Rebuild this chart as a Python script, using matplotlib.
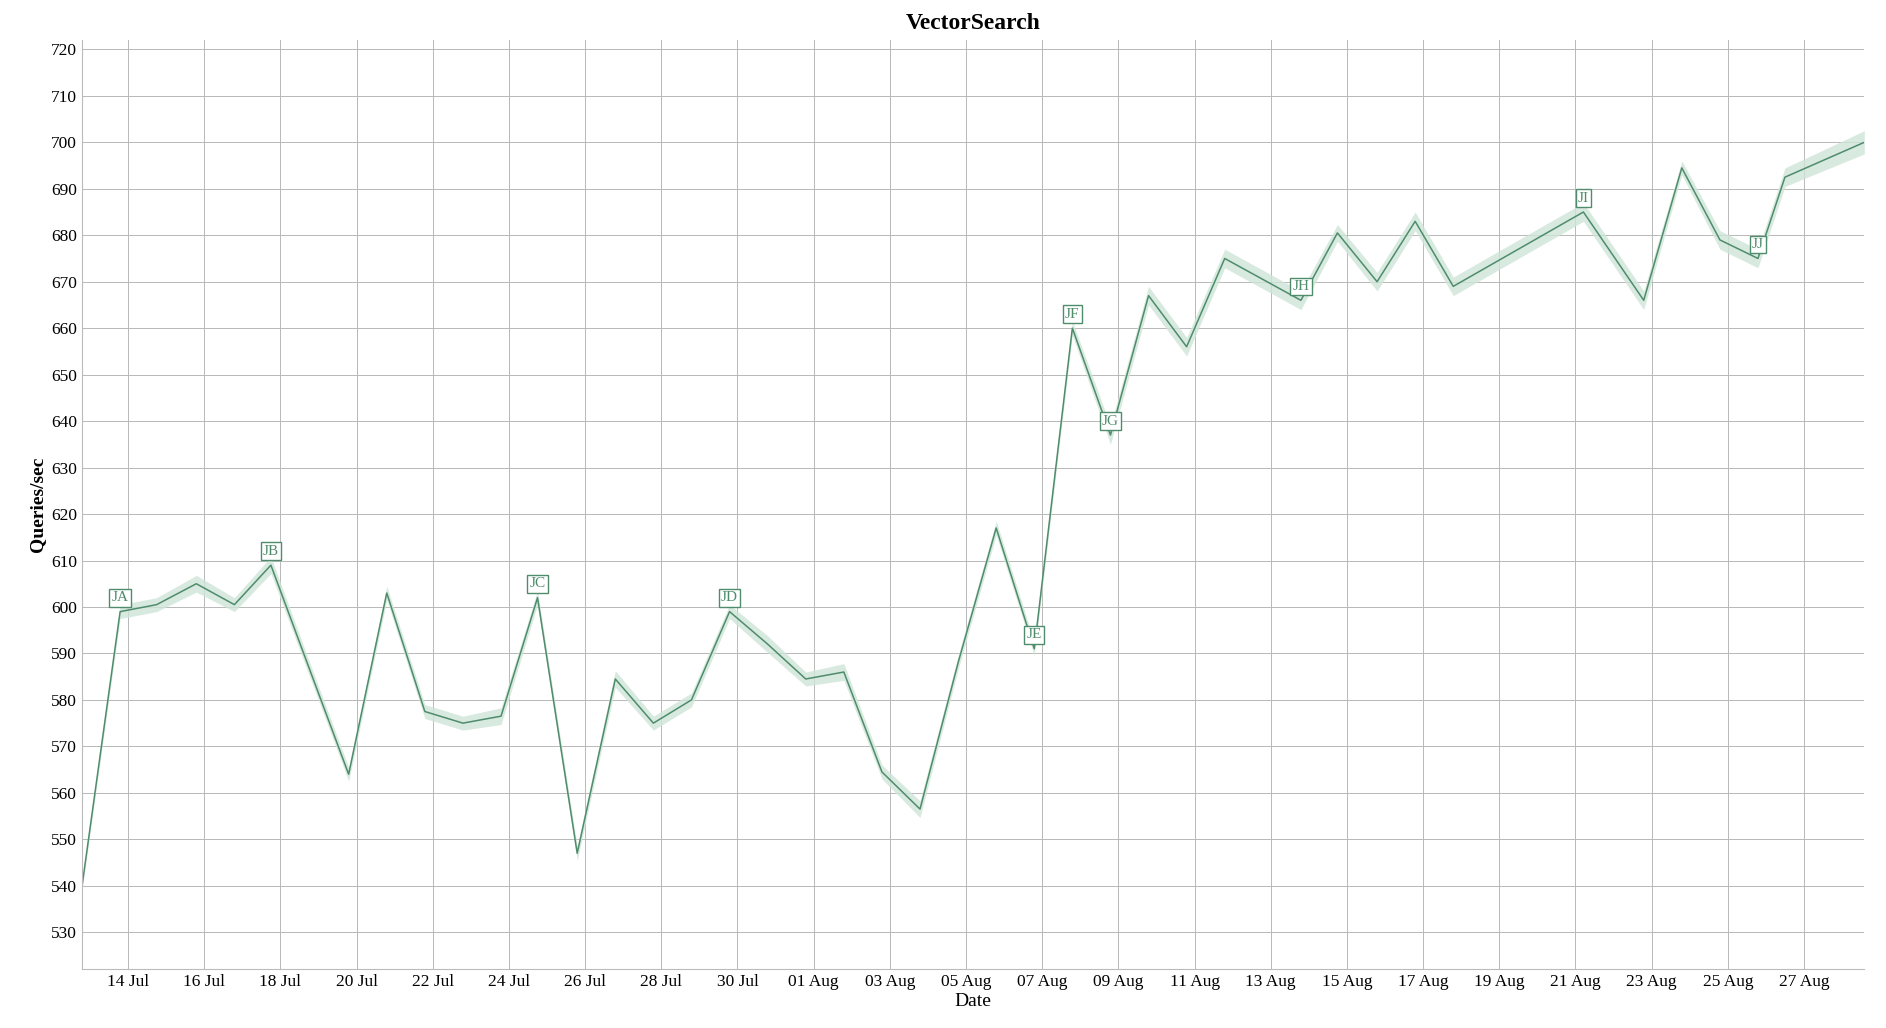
import matplotlib
matplotlib.use("Agg")
import matplotlib.pyplot as plt
import matplotlib.dates as mdates
import matplotlib.ticker as mticker
import numpy as np
import pandas as pd

dates = ["2023-07-12 19:00","2023-07-13 19:00","2023-07-14 18:00","2023-07-15 19:00","2023-07-16 19:00",
         "2023-07-17 18:00","2023-07-18 19:00","2023-07-19 19:00","2023-07-20 19:00","2023-07-21 19:00",
         "2023-07-22 19:00","2023-07-23 19:00","2023-07-24 18:00","2023-07-25 19:00","2023-07-26 19:00",
         "2023-07-27 19:00","2023-07-28 19:00","2023-07-29 19:00","2023-07-30 19:00","2023-07-31 19:00",
         "2023-08-01 19:00","2023-08-02 19:00","2023-08-03 19:00","2023-08-04 19:00","2023-08-05 19:00",
         "2023-08-06 19:00","2023-08-07 19:00","2023-08-08 19:00","2023-08-09 19:00","2023-08-10 19:00",
         "2023-08-11 19:00","2023-08-12 19:00","2023-08-13 19:00","2023-08-14 18:00","2023-08-15 19:00",
         "2023-08-16 19:00","2023-08-17 19:00","2023-08-21 05:00","2023-08-22 19:00","2023-08-23 19:00",
         "2023-08-24 19:00","2023-08-25 19:00","2023-08-26 12:00","2023-08-28 14:00"]
qps = [540, 599, 600.5, 605, 600.5,
       609, 586, 564, 603, 577.5,
       575, 576.5, 602, 547, 584.5,
       575, 580, 599, 592, 584.5,
       586, 564.5, 556.5, 588, 617,
       591, 660, 637, 667, 656,
       675, 670.5, 666, 680.5, 670,
       683, 669, 685, 666, 694.5,
       679, 675, 692.5, 700]
band = [1.0, 1.5, 1.5, 1.8, 1.5,
        1.8, 1.5, 1.5, 1.5, 1.5,
        1.5, 1.8, 1.5, 1.5, 1.8,
        1.5, 1.5, 1.5, 1.8, 1.5,
        1.8, 1.5, 1.8, 1.5, 1.5,
        1.5, 1.5, 2.0, 2.0, 2.0,
        2.0, 2.0, 2.0, 1.8, 2.0,
        2.0, 2.0, 2.0, 2.0, 1.5,
        2.0, 2.0, 2.0, 2.5]
labels = {"JA": 1, "JB": 5, "JC": 12, "JD": 17, "JE": 25, "JF": 26, "JG": 27, "JH": 32, "JI": 37, "JJ": 41}
tick_dates = pd.date_range("2023-07-14", "2023-08-27", freq="2D")

x = pd.to_datetime(dates)
y = np.array(qps); b = np.array(band)

plt.rcParams['font.family'] = ['Liberation Serif', 'DejaVu Serif']
fig = plt.figure(figsize=(18.86, 10.28), dpi=100)
ax = fig.add_axes([0.0435, 0.057, 0.945, 0.904])
col = "#4e8c6c"
ax.fill_between(x, y - b, y + b, color="#cfe5d8", alpha=0.8, lw=0)
ax.plot(x, y, color=col, lw=1.1)
for name, i in labels.items():
    ax.annotate(name, (x[i], y[i]), xytext=(0, 10), textcoords="offset points", ha="center", va="center",
                fontsize=11, color=col,
                bbox=dict(boxstyle="square,pad=0.15", fc="white", ec=col, lw=1))

ax.set_xlim(pd.Timestamp("2023-07-12 19:00"), pd.Timestamp("2023-08-28 14:00"))
ax.set_ylim(522, 722)
ax.set_yticks(np.arange(530, 721, 10))
ax.xaxis.set_major_locator(mticker.FixedLocator(mdates.date2num(tick_dates)))
ax.xaxis.set_major_formatter(mdates.DateFormatter("%d %b"))
ax.grid(which="major", color="#b8b8b8", lw=0.7)
ax.set_axisbelow(True)
for s in ["top", "right"]:
    ax.spines[s].set_visible(False)
ax.spines["left"].set_color("#bbbbbb"); ax.spines["bottom"].set_color("#bbbbbb")
ax.tick_params(which="both", length=0, labelsize=12.5)
ax.set_title("VectorSearch", fontsize=17, fontweight="bold", pad=8)
ax.set_xlabel("Date", fontsize=14, labelpad=2)
ax.set_ylabel("Queries/sec", fontsize=14, fontweight="bold")
fig.savefig("out.png")
